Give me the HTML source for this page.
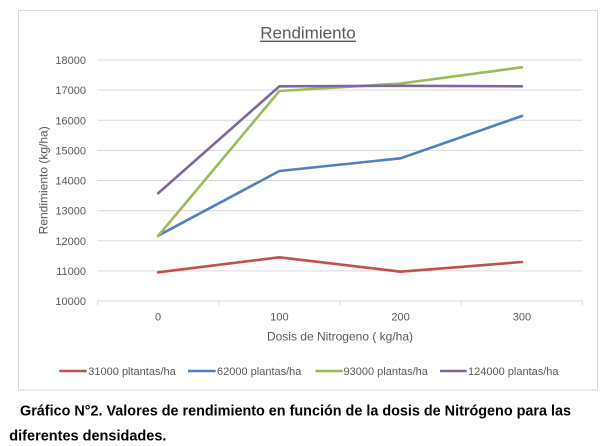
<!DOCTYPE html>
<html>
<head>
<meta charset="utf-8">
<style>
  html,body{margin:0;padding:0;background:#fff;}
  svg{display:block;}
</style>
</head>
<body>
<svg width="603" height="446" viewBox="0 0 603 446" xmlns="http://www.w3.org/2000/svg">
  <rect x="0" y="0" width="603" height="446" fill="#ffffff"/>
  <!-- chart frame -->
  <rect x="18.5" y="10.5" width="579" height="379.5" fill="#ffffff" stroke="#d9d9d9" stroke-width="1"/>

  <!-- title -->
  <text x="308" y="38.3" font-family="Liberation Sans, sans-serif" font-size="17" fill="#595959" text-anchor="middle">Rendimiento</text>
  <line x1="260" y1="41.3" x2="356" y2="41.3" stroke="#595959" stroke-width="1.3"/>

  <!-- gridlines -->
  <g stroke="#d9d9d9" stroke-width="1">
    <line x1="97.5" y1="60" x2="582.5" y2="60"/>
    <line x1="97.5" y1="90.1" x2="582.5" y2="90.1"/>
    <line x1="97.5" y1="120.3" x2="582.5" y2="120.3"/>
    <line x1="97.5" y1="150.4" x2="582.5" y2="150.4"/>
    <line x1="97.5" y1="180.5" x2="582.5" y2="180.5"/>
    <line x1="97.5" y1="210.6" x2="582.5" y2="210.6"/>
    <line x1="97.5" y1="240.8" x2="582.5" y2="240.8"/>
    <line x1="97.5" y1="270.9" x2="582.5" y2="270.9"/>
    <line x1="97.5" y1="301" x2="582.5" y2="301"/>
    <!-- ticks -->
    <line x1="97.5" y1="301" x2="97.5" y2="305.5"/>
    <line x1="218.8" y1="301" x2="218.8" y2="305.5"/>
    <line x1="340" y1="301" x2="340" y2="305.5"/>
    <line x1="461.3" y1="301" x2="461.3" y2="305.5"/>
    <line x1="582.5" y1="301" x2="582.5" y2="305.5"/>
  </g>

  <!-- y labels -->
  <g font-family="Liberation Sans, sans-serif" font-size="11" fill="#595959" text-anchor="end">
    <text x="86" y="64">18000</text>
    <text x="86" y="94.1">17000</text>
    <text x="86" y="124.3">16000</text>
    <text x="86" y="154.4">15000</text>
    <text x="86" y="184.5">14000</text>
    <text x="86" y="214.6">13000</text>
    <text x="86" y="244.8">12000</text>
    <text x="86" y="274.9">11000</text>
    <text x="86" y="305">10000</text>
  </g>

  <!-- x labels -->
  <g font-family="Liberation Sans, sans-serif" font-size="11" fill="#595959" text-anchor="middle">
    <text x="158.1" y="320.7">0</text>
    <text x="279.4" y="320.7">100</text>
    <text x="400.6" y="320.7">200</text>
    <text x="521.9" y="320.7">300</text>
  </g>

  <!-- axis titles -->
  <text x="340" y="340.5" font-family="Liberation Sans, sans-serif" font-size="12" fill="#595959" text-anchor="middle">Dosis de Nitrogeno ( kg/ha)</text>
  <text transform="translate(47.3,180.3) rotate(-90)" x="0" y="0" font-family="Liberation Sans, sans-serif" font-size="12" fill="#595959" text-anchor="middle">Rendimiento (kg/ha)</text>

  <!-- series -->
  <g fill="none" stroke-width="2.6" stroke-linejoin="round" stroke-linecap="round">
    <polyline stroke="#c0504d" points="158.1,272.3 279.4,257.3 400.6,271.7 521.9,262"/>
    <polyline stroke="#4f81bd" points="158.1,235.7 279.4,171 400.6,158.3 521.9,116"/>
    <polyline stroke="#9bbb59" points="158.1,236 279.4,91 400.6,83.5 521.9,67.3"/>
    <polyline stroke="#8064a2" points="158.1,193.3 279.4,86.3 400.6,85.8 521.9,86.3"/>
  </g>

  <!-- legend -->
  <g stroke-width="2.6">
    <line x1="59.3" y1="371" x2="86.7" y2="371" stroke="#c0504d"/>
    <line x1="188" y1="371" x2="215.7" y2="371" stroke="#4f81bd"/>
    <line x1="315.5" y1="371" x2="342.7" y2="371" stroke="#9bbb59"/>
    <line x1="440" y1="371" x2="466.7" y2="371" stroke="#8064a2"/>
  </g>
  <g font-family="Liberation Sans, sans-serif" font-size="11" fill="#595959">
    <text x="88.3" y="375">31000 pltantas/ha</text>
    <text x="217" y="375">62000 plantas/ha</text>
    <text x="343.5" y="375">93000 plantas/ha</text>
    <text x="468" y="375">124000 plantas/ha</text>
  </g>

  <!-- caption -->
  <g font-family="Liberation Sans, Arial, sans-serif" font-size="14.5" font-weight="bold" fill="#000">
    <text x="20" y="415.5" textLength="551" lengthAdjust="spacingAndGlyphs">Gráfico N°2. Valores de rendimiento en función de la dosis de Nitrógeno para las</text>
    <text x="9.3" y="440.3">diferentes densidades.</text>
  </g>
</svg>
</body>
</html>
